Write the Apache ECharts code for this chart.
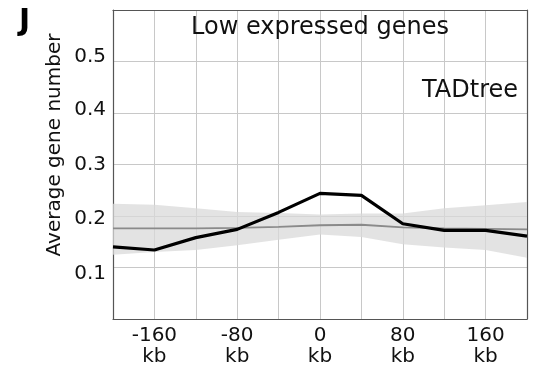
<!DOCTYPE html>
<html lang="en">
<head>
    <meta charset="utf-8">
    <title>Low expressed genes</title>
    <script src="https://cdn.jsdelivr.net/npm/echarts@6/dist/echarts.min.js"></script>
    <style>
        html, body { margin: 0; padding: 0; background: #fff; }
        #main { width: 534px; height: 371px; }
    </style>
</head>
<body>
<div id="main"></div>

<script type="text/javascript">
    // distance from TAD boundary (kb)
    var positions = [-200, -160, -120, -80, -40, 0, 40, 80, 120, 160, 200];
    // observed average gene number
    var observed = [0.140, 0.134, 0.158, 0.174, 0.207, 0.244, 0.240, 0.185, 0.172, 0.172, 0.161];
    // random expectation: mean and spread
    var randomMean = [0.176, 0.176, 0.176, 0.177, 0.179, 0.182, 0.183, 0.178, 0.176, 0.175, 0.174];
    var randomUpper = [0.224, 0.222, 0.215, 0.208, 0.206, 0.203, 0.205, 0.205, 0.215, 0.221, 0.227];
    var randomLower = [0.125, 0.130, 0.134, 0.143, 0.154, 0.164, 0.159, 0.145, 0.139, 0.134, 0.119];

    var xLabelTicks = [-160, -80, 0, 80, 160];
    var yLabelTicks = [0.1, 0.2, 0.3, 0.4, 0.5];

    function pairs(ys) {
        return positions.map(function (x, i) { return [x, ys[i]]; });
    }

    var myChart = echarts.init(document.getElementById('main'));
    var font = 'DejaVu Sans';
    var frameLine = { show: true, onZero: false, lineStyle: { color: '#555', width: 1.2 } };

    // in the original the y labels sit a little off their grid lines (px, + = down)
    var yLabelNudge = [6, 2.5, 0, -3.5, -5];
    var yRich = {};
    yLabelNudge.forEach(function (d, i) {
        yRich['l' + i] = {
            fontSize: 20, fontFamily: font, color: '#111',
            padding: d >= 0 ? [2 * d, 0, 0, 0] : [0, 0, -2 * d, 0]
        };
    });

    // shaded band between randomLower and randomUpper, through the axes' scales
    function renderBand(params, api) {
        var pts = [];
        for (var i = 0; i < positions.length; i++) {
            pts.push(api.coord([positions[i], randomUpper[i]]));
        }
        for (var j = positions.length - 1; j >= 0; j--) {
            pts.push(api.coord([positions[j], randomLower[j]]));
        }
        return {
            type: 'polygon',
            shape: { points: pts },
            style: { fill: '#d9d9d9', opacity: 0.75 }
        };
    }

    var option = {
        animation: false,
        textStyle: { fontFamily: font },
        grid: { left: 113, right: 7, top: 10, bottom: 52 },
        xAxis: [{
            type: 'value', min: -200, max: 200, interval: 40,
            axisLine: frameLine,
            axisTick: { show: false },
            axisLabel: {
                color: '#111', fontSize: 20, fontFamily: font, margin: 6, lineHeight: 21,
                formatter: function (v) {
                    return xLabelTicks.indexOf(v) >= 0 ? v + '\nkb' : '';
                }
            },
            splitLine: { show: true, showMinLine: false, showMaxLine: false, lineStyle: { color: '#c8c8c8', width: 1 } }
        }, {
            type: 'value', position: 'top', min: -200, max: 200, interval: 40,
            axisLine: frameLine, axisTick: { show: false }, axisLabel: { show: false }, splitLine: { show: false }
        }],
        yAxis: [{
            type: 'value', min: 0, max: 0.6, interval: 0.1,
            axisLine: frameLine,
            axisTick: { show: false },
            axisLabel: {
                color: '#111', fontSize: 20, fontFamily: font, margin: 7,
                rich: yRich,
                formatter: function (v) {
                    var r = Math.round(v * 10) / 10;
                    var k = yLabelTicks.indexOf(r);
                    return k >= 0 ? '{l' + k + '|' + r.toFixed(1) + '}' : '';
                }
            },
            splitLine: { show: true, showMinLine: false, showMaxLine: false, lineStyle: { color: '#c8c8c8', width: 1 } }
        }, {
            type: 'value', position: 'right', min: 0, max: 0.6, interval: 0.1,
            axisLine: frameLine, axisTick: { show: false }, axisLabel: { show: false }, splitLine: { show: false }
        }],
        graphic: [
            { type: 'text', z: 100, left: 19, top: 7, style: { text: 'J', fontSize: 30, fontWeight: 'bold', fontFamily: font, fill: '#000' } },
            { type: 'text', z: 100, x: 320, y: 28, style: { text: 'Low expressed genes', fontSize: 24, fontFamily: font, fill: '#111', align: 'center', verticalAlign: 'middle' } },
            { type: 'text', z: 100, x: 518, y: 91, style: { text: 'TADtree', fontSize: 24, fontFamily: font, fill: '#111', align: 'right', verticalAlign: 'middle' } },
            { type: 'text', z: 100, x: 55, y: 145, rotation: Math.PI / 2, style: { text: 'Average gene number', fontSize: 20, fontFamily: font, fill: '#111', align: 'center', verticalAlign: 'middle' } }
        ],
        series: [{
            name: 'band', type: 'custom', silent: true,
            data: [[positions[0], randomLower[0]]],
            renderItem: renderBand
        }, {
            name: 'random', type: 'line', data: pairs(randomMean),
            symbol: 'none', lineStyle: { color: '#8a8a8a', width: 1.8 }
        }, {
            name: 'observed', type: 'line', data: pairs(observed), z: 4,
            symbol: 'none', lineStyle: { color: '#000', width: 3.2 }
        }]
    };

    myChart.setOption(option);
</script>
</body>
</html>
